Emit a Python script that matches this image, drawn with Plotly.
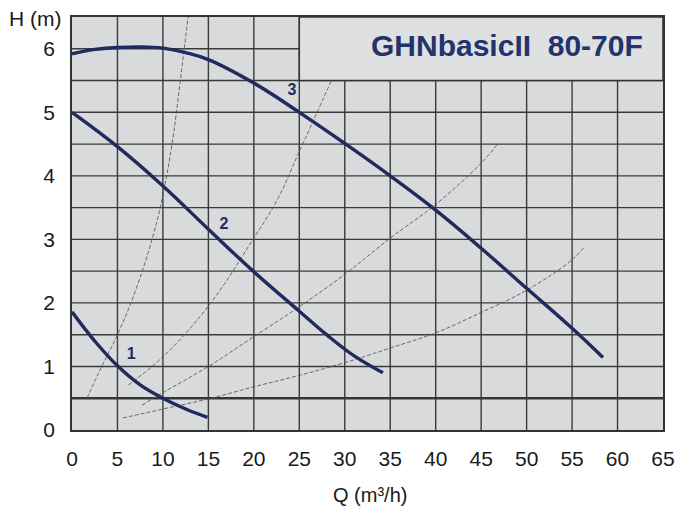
import plotly.graph_objects as go

# Pump performance curves, speed settings 1..3: flow Q (m³/h) vs head H (m)
q_speed1 = [0, 2.5, 5, 7.5, 10, 12.5, 14.9]
h_speed1 = [1.86, 1.40, 1.01, 0.71, 0.50, 0.33, 0.20]

q_speed2 = [0, 5, 10, 15, 20, 25, 28, 31, 34.2]
h_speed2 = [5.00, 4.46, 3.84, 3.16, 2.49, 1.87, 1.50, 1.17, 0.90]

q_speed3 = [0, 2.5, 5, 7.5, 10, 12.5, 15, 20, 25, 30, 35, 40, 45, 50, 55, 58.4]
h_speed3 = [5.92, 5.99, 6.02, 6.03, 6.01, 5.94, 5.83, 5.46, 5.00, 4.51,
            4.00, 3.46, 2.86, 2.23, 1.60, 1.14]

# System (installation) resistance curves
q_sys_a = [1.65, 3, 5, 7, 9, 10, 11, 12, 12.76]
h_sys_a = [0.50, 0.92, 1.50, 2.20, 3.10, 3.70, 4.50, 5.60, 6.50]

q_sys_b = [6.2, 9.9, 15, 19.9, 22.6, 24.9, 28.6]
h_sys_b = [0.71, 1.14, 1.95, 3.00, 3.63, 4.35, 5.52]

q_sys_c = [7.7, 9.9, 15, 20, 25, 30, 35, 40, 45, 46.8]
h_sys_c = [0.39, 0.58, 1.00, 1.47, 1.94, 2.45, 3.02, 3.55, 4.20, 4.50]

q_sys_d = [5.6, 10, 15, 20, 25, 30, 35, 40, 45, 50, 55, 56.4]
h_sys_d = [0.19, 0.33, 0.49, 0.68, 0.86, 1.06, 1.29, 1.53, 1.85, 2.20, 2.68, 2.89]

# Curve numbers and where they sit
curve_labels = ["1", "2", "3"]
label_q = [6.5, 16.7, 24.2]
label_h = [1.18, 3.23, 5.33]

# Axis ticks
q_ticks = list(range(0, 70, 5))
q_tick_text = [str(v) for v in q_ticks]
h_ticks = [0, 1, 2, 3, 4, 5, 6]
h_tick_text = [str(v) for v in h_ticks]

model_name = "<b>GHN</b><b>basic</b><b>II</b>\u00a0\u00a0<b>80-70F</b>"
x_title = "Q (m³/h)"
y_title = "H (m)"

NAVY = "#1f2b5e"
TITLE_NAVY = "#23336c"
GRID = "#3a3a3a"
FONT = "Liberation Sans, Arial, sans-serif"

Q_MAX, H_MAX = 65, 6.5
PANEL_Q0, PANEL_H0 = 25, 5.5   # lower-left corner of the model-name panel

fig = go.Figure()

for qs, hs in [(q_sys_a, h_sys_a), (q_sys_b, h_sys_b),
               (q_sys_c, h_sys_c), (q_sys_d, h_sys_d)]:
    fig.add_trace(go.Scatter(
        x=qs, y=hs, mode="lines",
        line=dict(color="#5a5a5a", width=0.9, dash="4px,2px",
                  shape="spline", smoothing=1.1),
        hoverinfo="skip", showlegend=False))

for qs, hs in [(q_speed1, h_speed1), (q_speed2, h_speed2), (q_speed3, h_speed3)]:
    fig.add_trace(go.Scatter(
        x=qs, y=hs, mode="lines",
        line=dict(color=NAVY, width=3.4, shape="spline", smoothing=1.2),
        showlegend=False))

fig.add_trace(go.Scatter(
    x=label_q, y=label_h, mode="text", text=curve_labels,
    textfont=dict(family=FONT, size=16, color=NAVY, weight="bold"),
    hoverinfo="skip", showlegend=False))

# Grid drawn as shapes under the traces: every 5 m³/h and every 0.5 m
for q in q_ticks[1:-1]:
    fig.add_shape(type="line", xref="x", yref="y", x0=q, x1=q, y0=0, y1=H_MAX,
                  line=dict(color=GRID, width=1.4), layer="below")
for i in range(1, 13):
    h = i * 0.5
    fig.add_shape(type="line", xref="x", yref="y", x0=0, x1=Q_MAX, y0=h, y1=h,
                  line=dict(color=GRID if h != 0.5 else "#353535",
                            width=1.4 if h != 0.5 else 2.4),
                  layer="below")

# model name panel in the upper right, covering the grid
fig.add_shape(type="rect", xref="x", yref="y", x0=PANEL_Q0, x1=Q_MAX,
              y0=PANEL_H0, y1=H_MAX,
              fillcolor="#dfe0e2", line=dict(color="#333333", width=1.5),
              layer="below")

fig.update_xaxes(
    range=[0, Q_MAX], tickvals=q_ticks, ticktext=q_tick_text,
    showgrid=False, zeroline=False,
    showline=True, mirror=True, linecolor="#333333", linewidth=1.6,
    ticks="", ticklabelstandoff=9,
    tickfont=dict(family=FONT, size=21, color="#1a1a1a"))
fig.update_yaxes(
    range=[0, H_MAX], tickvals=h_ticks, ticktext=h_tick_text,
    showgrid=False, zeroline=False,
    showline=True, mirror=True, linecolor="#333333", linewidth=1.6,
    ticks="", ticklabelstandoff=11,
    tickfont=dict(family=FONT, size=21, color="#1a1a1a"))

fig.add_annotation(text=model_name, xref="paper", yref="paper",
                   x=0.736, y=0.932, xanchor="center", yanchor="middle",
                   showarrow=False,
                   font=dict(family=FONT, size=30, color=TITLE_NAVY))
fig.add_annotation(text=y_title, xref="paper", yref="paper", x=0, y=1,
                   xshift=-37, yshift=-1, xanchor="center", yanchor="middle",
                   showarrow=False, font=dict(family=FONT, size=21, color="#1a1a1a"))
fig.add_annotation(text=x_title, xref="paper", yref="paper", x=0.505, y=0,
                   yshift=-65, xanchor="center", yanchor="middle",
                   showarrow=False, font=dict(family=FONT, size=20, color="#1a1a1a"))

fig.update_layout(
    width=676, height=506,
    margin=dict(l=72, r=13, t=17, b=76, autoexpand=False),
    paper_bgcolor="white", plot_bgcolor="#d9dadc",
    showlegend=False)

fig.write_html("out.html")
